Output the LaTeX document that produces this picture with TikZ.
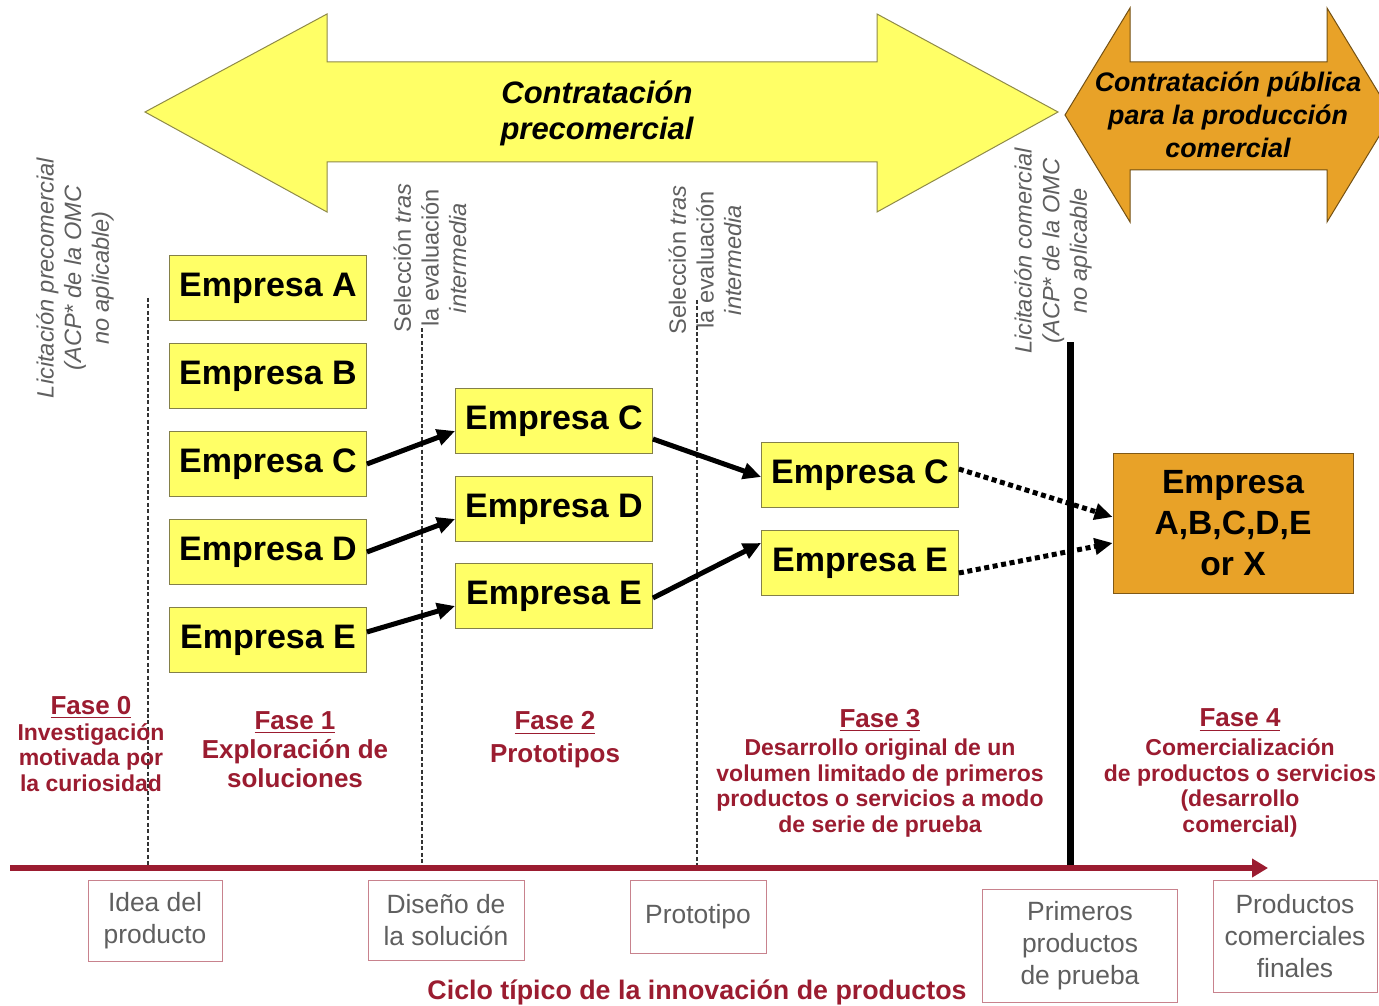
\documentclass[tikz,border=0pt]{standalone}
\usepackage{fontspec}
\setmainfont{Liberation Sans}
\usetikzlibrary{arrows.meta}
\definecolor{amarillo}{RGB}{255,255,102}
\definecolor{naranja}{RGB}{232,162,40}
\definecolor{granate}{RGB}{155,28,48}
\definecolor{gris}{RGB}{95,95,95}
\tikzset{
  empresa/.style={draw=black!55!yellow, fill=amarillo, minimum width=98.5pt, minimum height=32.5pt, inner sep=0pt, font=\fontsize{17}{20}\selectfont\bfseries},
  nota/.style={text=gris, rotate=90, align=center, inner sep=0pt, font=\fontsize{11.8}{13.8}\selectfont},
  fase/.style={text=granate, align=center, inner sep=0pt, font=\fontsize{11.5}{12.8}\selectfont\bfseries},
  hito/.style={draw=granate!55, text=gris, align=center, inner sep=0pt, font=\fontsize{13.2}{16}\selectfont},
  paso/.style={line width=2.5pt, -{Triangle[length=9pt,width=8pt]}},
  puntos/.style={paso, dash pattern=on 2.5pt off 1.8pt},
  divisor/.style={line width=0.7pt, dash pattern=on 2pt off 1.2pt, black!80}
}
\begin{document}
\begin{tikzpicture}[x=0.5pt,y=-0.5pt]
\useasboundingbox[fill=white] (0,0) rectangle (1379,1005);
\filldraw[fill=amarillo, draw=black!50!yellow, line width=0.5pt] (145,112) -- (327,14) -- (327,62) -- (877,62) -- (877,14) -- (1058,112) -- (877,212) -- (877,162) -- (327,162) -- (327,212) -- cycle;
\filldraw[fill=naranja, draw=black!50!naranja, line width=0.5pt] (1065,115) -- (1130,8) -- (1130,62) -- (1327,62) -- (1327,8) -- (1392,115) -- (1327,222) -- (1327,170) -- (1130,170) -- (1130,222) -- cycle;
\node[align=center, font=\fontsize{15.5}{18}\selectfont\bfseries\itshape] (pre) at (597,113) {Contratación\\precomercial};
\node[align=center, font=\fontsize{13.4}{16.5}\selectfont\bfseries\itshape] (pub) at (1228,115) {Contratación pública\\para la producción\\comercial};
\node[nota, font=\fontsize{11.8}{13.8}\selectfont\itshape] (lic0) at (75,278) {Licitación precomercial\\(ACP* de la OMC\\no aplicable)};
\node[nota] (sel1) at (430,258) {Selección \textit{tras}\\la evaluación\\\textit{intermedia}};
\node[nota] (sel2) at (705,260) {Selección \textit{tras}\\la evaluación\\\textit{intermedia}};
\node[nota, font=\fontsize{11.8}{13.8}\selectfont\itshape] (lic1) at (1053,251) {Licitación comercial\\(ACP* de la OMC\\no aplicable};
\foreach \x/\y in {148/298,422/328,697/300}
  \draw[divisor] (\x,\y) -- (\x,866);
\draw[line width=3.5pt] (1070,342) -- (1070,868);
\foreach \n/\y in {A/288,B/376,C/464,D/552,E/640}
  \node[empresa] (e1\n) at (268,\y) {Empresa \n};
\foreach \n/\y in {C/421,D/509,E/596}
  \node[empresa] (e2\n) at (554,\y) {Empresa \n};
\foreach \n/\y in {C/475,E/563}
  \node[empresa] (e3\n) at (860,\y) {Empresa \n};
\node[draw=black!45!naranja, fill=naranja, minimum width=120pt, minimum height=70pt, align=center, font=\fontsize{16.8}{20.5}\selectfont\bfseries] (final) at (1233,523) {Empresa\\A,B,C,D,E\\or X};
\draw[paso] (e1C.east) -- ([yshift=-5pt]e2C.west);
\draw[paso] (e1D.east) -- ([yshift=-5pt]e2D.west);
\draw[paso] ([yshift=4pt]e1E.east) -- ([yshift=-5pt]e2E.west);
\draw[paso] ([yshift=-9pt]e2C.east) -- ([yshift=-1pt]e3C.west);
\draw[paso] ([yshift=-1pt]e2E.east) -- ([yshift=10pt]e3E.west);
\draw[puntos] ([yshift=3pt]e3C.east) -- ([yshift=3pt]final.west);
\draw[puntos] ([yshift=-5pt]e3E.east) -- ([yshift=-10pt]final.west);
\node[fase] (f0) at (91,744) {{\fontsize{13}{12.8}\selectfont\underline{Fase 0}}\\Investigación\\motivada por\\la curiosidad};
\node[fase, font=\fontsize{13}{14.5}\selectfont\bfseries] (f1) at (295,750) {\underline{Fase 1}\\Exploración de\\soluciones};
\node[fase, font=\fontsize{13}{16.5}\selectfont\bfseries] (f2) at (555,740) {\underline{Fase 2}\\Prototipos};
\node[fase] (f3) at (880,773) {{\fontsize{13}{12.8}\selectfont\underline{Fase 3}}\\[1.5pt]Desarrollo original de un\\volumen limitado de primeros\\productos o servicios a modo\\de serie de prueba};
\node[fase] (f4) at (1240,773) {{\fontsize{13}{12.8}\selectfont\underline{Fase 4}}\\[1.5pt]Comercialización\\de productos o servicios\\(desarrollo\\comercial)};
\coordinate (t0) at (10,868);
\coordinate (t1) at (1268,868);
\draw[granate, line width=3pt, -{Triangle[length=8pt,width=9pt]}] (t0) -- (t1);
\node[hito, minimum width=67pt, minimum height=40.5pt] (idea) at (155,921) {Idea del\\producto};
\node[hito, minimum width=78pt, minimum height=40pt] (diseno) at (446,920) {Diseño de\\la solución};
\node[hito, minimum width=68pt, minimum height=36.5pt] (proto) at (698,917) {Prototipo};
\node[hito, minimum width=97.5pt, minimum height=56.5pt] (prim) at (1080,946) {Primeros\\productos\\de prueba};
\node[hito, minimum width=82pt, minimum height=56pt] (prod) at (1295,936) {Productos\\comerciales\\finales};
\node[text=granate, font=\fontsize{13.4}{16}\selectfont\bfseries] (ciclo) at (697,992) {Ciclo típico de la innovación de productos};
\end{tikzpicture}
\end{document}
